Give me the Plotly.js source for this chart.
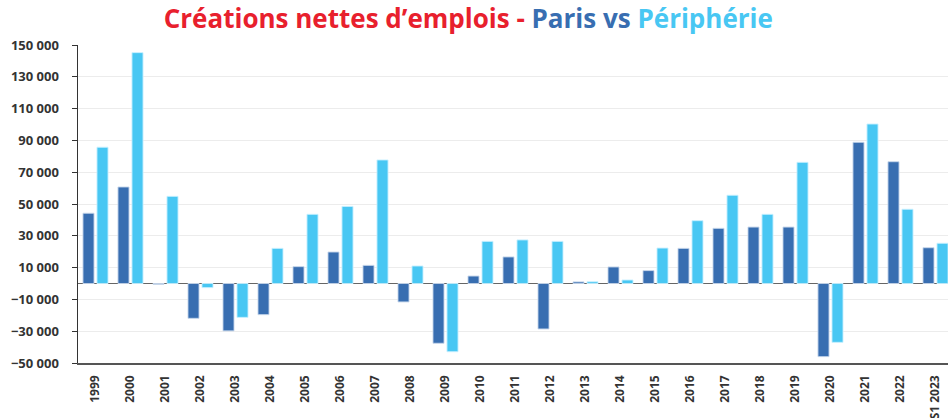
<!DOCTYPE html>
<html>
<head>
<meta charset="utf-8">
<script src="https://cdn.plot.ly/plotly-3.0.1.min.js"></script>
<style>html,body{margin:0;padding:0;background:#fff;}#chart{width:948px;height:418px;}</style>
</head>
<body>
<div id="chart"></div>
<script>
const years = ['1999','2000','2001','2002','2003','2004','2005','2006','2007','2008','2009','2010','2011','2012','2013','2014','2015','2016','2017','2018','2019','2020','2021','2022','S1 2023'];
const paris = [44200, 60700, -500, -21900, -29800, -19600, 10600, 19800, 11400, -11600, -37600, 4700, 16700, -28600, 1000, 10400, 8100, 22100, 34700, 35500, 35500, -46000, 88800, 76600, 22500];
const peripherie = [85700, 145200, 54800, -2600, -21300, 22100, 43500, 48500, 77700, 11000, -42900, 26500, 27400, 26500, 1100, 2200, 22300, 39500, 55500, 43500, 76200, -37000, 100300, 46700, 25300];
const yTicks = [-50000, -30000, -10000, 10000, 30000, 50000, 70000, 90000, 110000, 130000, 150000];

const cParis = '#386eb1';
const cPeri = '#48c7f3';
const font = 'Open Sans, Lato, sans-serif';

const data = [
  {type:'bar', name:'Paris', x: years, y: paris,
   marker:{color:cParis, line:{color:'rgba(200,215,235,0.9)', width:1}}},
  {type:'bar', name:'Périphérie', x: years, y: peripherie,
   marker:{color:cPeri, line:{color:'rgba(200,240,255,0.9)', width:1}}}
];

const layout = {
  width:948, height:418,
  margin:{l:78, r:0, t:45, b:55},
  paper_bgcolor:'#fff', plot_bgcolor:'#fff',
  separators:', ',
  showlegend:false,
  barmode:'group', bargap:0.2, bargroupgap:0.21,
  title:{
    text:'<span style="color:#e8202d">Créations nettes d’emplois - </span><span style="color:'+cParis+'">Paris vs </span><span style="color:'+cPeri+'">Périphérie</span>',
    font:{family:font, size:26, weight:700},
    x:0.494, xref:'container', xanchor:'center',
    y:0.955, yref:'container', yanchor:'middle'
  },
  xaxis:{
    type:'category',
    range:[-0.5, 24.357],
    tickangle:-90,
    tickfont:{family:font, size:12, color:'#333', weight:700},
    showline:true, linecolor:'#555', linewidth:1.5,
    ticks:'', ticklabelstandoff:6,
    showgrid:false, fixedrange:true
  },
  yaxis:{
    range:[-50000, 150000],
    tickvals:yTicks,
    tickformat:',d',
    tickfont:{family:font, size:13, color:'#333', weight:700},
    showline:true, linecolor:'#333', linewidth:1.5,
    ticks:'outside', ticklen:5, tickcolor:'#333', tickwidth:1,
    ticklabelstandoff:10,
    showgrid:true, gridcolor:'#ececec', gridwidth:1,
    zeroline:true, zerolinecolor:'#666', zerolinewidth:1.5,
    fixedrange:true
  }
};

Plotly.newPlot('chart', data, layout, {displayModeBar:false, staticPlot:true});
</script>
</body>
</html>
